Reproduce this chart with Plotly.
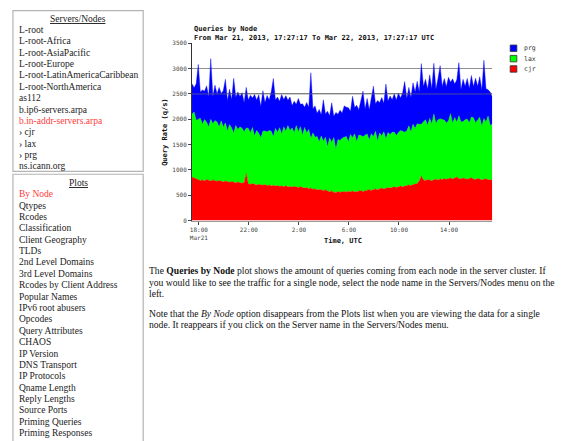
import plotly.graph_objects as go
import pandas as pd

W, H = 561, 441


def px(x):
    return x / W


def py(y):
    return 1 - y / H


# ---------------- data ----------------
start_time = "2013-03-21 17:27:17"
end_time = "2013-03-22 17:27:17"
times = pd.date_range(start_time, periods=145, freq="10min")

cjr = [860, 845, 820, 805, 790, 800, 785, 810, 790, 780, 800, 785,
       775, 790, 770, 765, 780, 760, 755, 770, 750, 745, 760, 740,
       735, 750, 930, 720, 715, 730, 710, 700, 715, 705, 695, 710,
       690, 700, 685, 695, 680, 690, 675, 680, 670, 685, 665, 670,
       660, 675, 655, 650, 665, 645, 640, 650, 630, 640, 620, 625,
       610, 615, 600, 595, 605, 580, 570, 585, 560, 555, 570, 560,
       565, 575, 560, 580, 570, 585, 565, 575, 580, 590, 575, 595,
       600, 610, 595, 615, 625, 610, 630, 640, 625, 645, 650, 640,
       655, 665, 650, 670, 680, 665, 685, 690, 700, 690, 710, 720,
       730, 780, 880, 800, 790, 810, 800, 785, 805, 815, 800, 820,
       810, 825, 815, 830, 840, 820, 835, 860, 830, 820, 840, 825,
       815, 830, 845, 820, 810, 835, 820, 800, 815, 825, 805, 810,
       800]

lax = [1240, 1300, 1160, 1190, 1230, 1100, 1210, 1130, 1060, 1220, 1110, 1190,
       1170, 1060, 1200, 1080, 1150, 1010, 1140, 1060, 980, 1130, 1040, 1110,
       1090, 1000, 900, 1100, 1020, 1110, 960, 1080, 1010, 930, 1070, 1060,
       1060, 1080, 1080, 960, 1140, 1050, 1160, 1030, 1180, 1080, 1210, 1110,
       1170, 1060, 1220, 1100, 1190, 1040, 1200, 1080, 1170, 980, 1110, 1020,
       1050, 940, 1070, 970, 1040, 880, 1060, 960, 1080, 860, 1030, 1020,
       1060, 1070, 1100, 970, 1130, 1050, 1150, 980, 1110, 1090, 1080, 1090,
       1110, 980, 1120, 1040, 1140, 960, 1100, 1030, 1130, 970, 1090, 1060,
       1090, 1080, 1030, 1070, 1100, 1100, 1060, 1080, 1170, 1060, 1190, 1100,
       1180, 1120, 1020, 1150, 1200, 1070, 1220, 1120, 1300, 1100, 1190, 1190,
       1180, 1160, 1110, 1140, 1270, 1100, 1200, 1080, 1240, 1130, 1110, 1170,
       1190, 1100, 1200, 1210, 1120, 1140, 1220, 1060, 1200, 1120, 1260, 1070,
       1100]

prg = [600, 480, 720, 1090, 520, 680, 560, 720, 600, 1200, 540, 700,
       560, 780, 540, 720, 860, 600, 700, 560, 1080, 560, 740, 600,
       700, 580, 800, 560, 740, 580, 820, 600, 760, 620, 800, 560,
       720, 600, 780, 1150, 560, 700, 520, 780, 540, 700, 500, 660,
       440, 620, 420, 660, 440, 620, 400, 600, 440, 1300, 480, 620,
       460, 640, 420, 820, 460, 700, 440, 780, 420, 720, 500, 600,
       500, 620, 580, 680, 460, 820, 520, 720, 500, 680, 900, 520,
       700, 600, 720, 1000, 540, 800, 600, 760, 560, 1080, 620, 760,
       640, 760, 700, 780, 640, 760, 1000, 640, 760, 680, 820, 720,
       840, 640, 1200, 700, 800, 720, 860, 700, 1000, 680, 820, 1050,
       660, 820, 720, 860, 620, 880, 660, 840, 1050, 640, 840, 660,
       800, 680, 820, 620, 880, 680, 800, 720, 1150, 660, 520, 660,
       540]

series_names = ["cjr", "lax", "prg"]
series_values = [cjr, lax, prg]
series_colors = ["#ff0000", "#00ff00", "#0000ff"]

x_tick_vals = ["2013-03-21 18:00", "2013-03-21 22:00", "2013-03-22 02:00",
               "2013-03-22 06:00", "2013-03-22 10:00", "2013-03-22 14:00"]
x_tick_text = ["18:00<br>Mar21", "22:00", "2:00", "6:00", "10:00", "14:00"]
y_tick_vals = [0, 500, 1000, 1500, 2000, 2500, 3000, 3500]
y_tick_text = ["0", "500", "1000", "1500", "2000", "2500", "3000", "3500"]

servers = ["L-root", "L-root-Africa", "L-root-AsiaPacific", "L-root-Europe",
           "L-root-LatinAmericaCaribbean", "L-root-NorthAmerica", "as112",
           "b.ip6-servers.arpa", "b.in-addr-servers.arpa", "› cjr", "› lax",
           "› prg", "ns.icann.org"]
active_server = "b.in-addr-servers.arpa"
plots = ["By Node", "Qtypes", "Rcodes", "Classification", "Client Geography",
         "TLDs", "2nd Level Domains", "3rd Level Domains",
         "Rcodes by Client Address", "Popular Names", "IPv6 root abusers",
         "Opcodes", "Query Attributes", "CHAOS", "IP Version", "DNS Transport",
         "IP Protocols", "Qname Length", "Reply Lengths", "Source Ports",
         "Priming Queries", "Priming Responses"]
active_plot = "By Node"

paragraph_lines = [
    "The <b>Queries by Node</b> plot shows the amount of queries coming from each node in the server cluster. If",
    "you would like to see the traffic for a single node, select the node name in the Servers/Nodes menu on the",
    "left.",
]
note_lines = [
    "Note that the <i>By Node</i> option disappears from the Plots list when you are viewing the data for a single",
    "node. It reappears if you click on the Server name in the Servers/Nodes menu.",
]

# ---------------- figure ----------------
fig = go.Figure()
for name, vals, col in zip(series_names, series_values, series_colors):
    fig.add_trace(go.Scatter(
        x=times, y=vals, name=name, stackgroup="one", mode="lines",
        line=dict(width=0.4, color=col), fillcolor=col, hoverinfo="x+y+name"))

MONO = "DejaVu Sans Mono"
SERIF = "Liberation Serif"

fig.update_layout(
    width=W, height=H, autosize=False,
    margin=dict(l=0, r=0, t=0, b=0),
    paper_bgcolor="white", plot_bgcolor="white",
    showlegend=False,
    xaxis=dict(
        domain=[px(190.7), px(492)], type="date",
        range=[start_time, end_time],
        tickvals=x_tick_vals, ticktext=x_tick_text,
        ticks="outside", ticklen=3, tickcolor="#444",
        tickfont=dict(family=MONO, size=6, color="#444"),
        showgrid=False, zeroline=False,
        showline=True, linecolor="#999", linewidth=1,
    ),
    yaxis=dict(
        domain=[py(220), py(40)], range=[0, 3500],
        tickvals=y_tick_vals, ticktext=y_tick_text,
        ticks="outside", ticklen=3, tickcolor="#444",
        tickfont=dict(family=MONO, size=6, color="#444"),
        showgrid=True, gridcolor="#8f8f8f", gridwidth=1,
        zeroline=False, showline=True, linecolor="#333", linewidth=1,
    ),
)

shapes = []
annotations = []

# grid line showing over the data near the top
shapes.append(dict(type="line", xref="x domain", yref="y", x0=0, x1=1,
                   y0=2500, y1=2500, layer="above",
                   line=dict(color="rgba(110,110,110,0.7)", width=1)))

# chart titles
annotations.append(dict(text="<b>Queries by Node</b>", x=px(190.5), y=py(25),
                        xref="paper", yref="paper", xanchor="left", yanchor="middle",
                        showarrow=False, font=dict(family=MONO, size=7, color="#111")))
annotations.append(dict(text="<b>From Mar 21, 2013, 17:27:17 To Mar 22, 2013, 17:27:17 UTC</b>",
                        x=px(190.5), y=py(35), xref="paper", yref="paper",
                        xanchor="left", yanchor="middle", showarrow=False,
                        font=dict(family=MONO, size=7, color="#111")))
annotations.append(dict(text="<b>Query Rate (q/s)</b>", x=px(163.5), y=py(130),
                        xref="paper", yref="paper", xanchor="center", yanchor="middle",
                        textangle=-90, showarrow=False,
                        font=dict(family=MONO, size=7, color="#111")))
annotations.append(dict(text="<b>Time, UTC</b>", x=px(342), y=py(241),
                        xref="paper", yref="paper", xanchor="center", yanchor="middle",
                        showarrow=False, font=dict(family=MONO, size=7, color="#111")))

# legend (top to bottom: prg, lax, cjr)
legend_rows = [("prg", "#0000ff", 45), ("lax", "#00ff00", 55.5), ("cjr", "#ff0000", 66)]
for name, col, yc in legend_rows:
    shapes.append(dict(type="rect", xref="paper", yref="paper",
                       x0=px(510), x1=px(516.7), y0=py(yc - 3.3), y1=py(yc + 3.3),
                       fillcolor=col, line=dict(color="#333", width=0.8)))
    annotations.append(dict(text=name, x=px(521.5), y=py(yc), xref="paper", yref="paper",
                            xanchor="left", yanchor="middle", showarrow=False,
                            font=dict(family=MONO, size=6.5, color="#333")))

# sidebar boxes
shapes.append(dict(type="rect", xref="paper", yref="paper",
                   x0=px(11), x1=px(141.7), y0=py(6.7), y1=py(170),
                   line=dict(color="#b4b4b4", width=1.2), fillcolor="rgba(0,0,0,0)"))
shapes.append(dict(type="rect", xref="paper", yref="paper",
                   x0=px(11), x1=px(141.7), y0=py(173), y1=py(450),
                   line=dict(color="#b4b4b4", width=1.2), fillcolor="rgba(0,0,0,0)"))

SB_SIZE = 9.5
P_SIZE = 9.6
STEP = 11.56
annotations.append(dict(text="<u>Servers/Nodes</u>", x=px(76.5), y=py(15), xref="paper",
                        yref="paper", xanchor="center", yanchor="middle", showarrow=False,
                        font=dict(family=SERIF, size=SB_SIZE, color="#222")))
for i, s in enumerate(servers):
    col = "#ff3b3b" if s == active_server else "#222"
    annotations.append(dict(text=s, x=px(15), y=py(26.3 + i * STEP), xref="paper",
                            yref="paper", xanchor="left", yanchor="middle", showarrow=False,
                            font=dict(family=SERIF, size=SB_SIZE, color=col)))

annotations.append(dict(text="<u>Plots</u>", x=px(76.5), y=py(181.7), xref="paper",
                        yref="paper", xanchor="center", yanchor="middle", showarrow=False,
                        font=dict(family=SERIF, size=SB_SIZE, color="#222")))
for i, s in enumerate(plots):
    col = "#ff3b3b" if s == active_plot else "#222"
    annotations.append(dict(text=s, x=px(15.5), y=py(193.3 + i * STEP), xref="paper",
                            yref="paper", xanchor="left", yanchor="middle", showarrow=False,
                            font=dict(family=SERIF, size=SB_SIZE, color=col)))

# explanatory paragraphs
for i, line in enumerate(paragraph_lines):
    annotations.append(dict(text=line, x=px(145.5), y=py(271 + i * 11.8), xref="paper",
                            yref="paper", xanchor="left", yanchor="middle", showarrow=False,
                            font=dict(family=SERIF, size=P_SIZE, color="#111")))
for i, line in enumerate(note_lines):
    annotations.append(dict(text=line, x=px(145.5), y=py(314 + i * 11.8), xref="paper",
                            yref="paper", xanchor="left", yanchor="middle", showarrow=False,
                            font=dict(family=SERIF, size=P_SIZE, color="#111")))

fig.update_layout(shapes=shapes, annotations=annotations)

fig.write_html("out.html", config={"displayModeBar": False},
               post_script="document.body.style.margin='0';document.body.style.overflow='hidden';")
